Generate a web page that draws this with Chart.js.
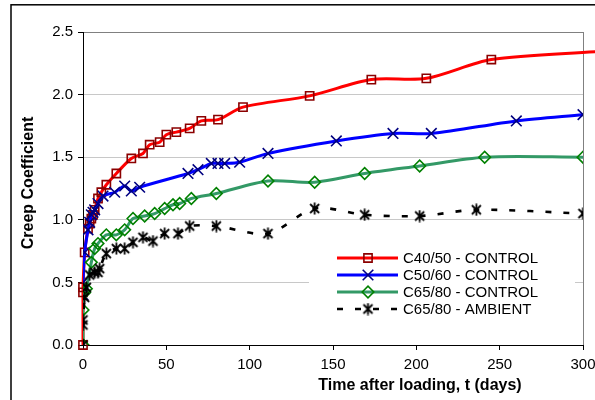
<!DOCTYPE html>
<html>
<head>
<meta charset="utf-8">
<script src="https://cdn.jsdelivr.net/npm/chart.js@4/dist/chart.umd.min.js"></script>
<style>
  html, body { margin: 0; padding: 0; background: #fff; overflow: hidden; }
  #wrap { position: relative; width: 595px; height: 400px; }
</style>
</head>
<body>
<div id="wrap"><canvas id="c" width="595" height="400"></canvas></div>
<script>
// Series names shown in the legend
const seriesNames = ['C40/50 - CONTROL', 'C50/60 - CONTROL', 'C65/80 - CONTROL', 'C65/80 - AMBIENT'];

// C40/50 control specimens (days after loading, creep coefficient)
const c4050Days  = [0, 0, 0, 1, 3, 4, 5, 6, 7, 9, 11, 14, 20, 29, 36, 40, 46, 50, 56, 64, 71, 81, 96, 136, 173, 206, 245, 310];
const c4050Creep = [0, 0.42, 0.46, 0.74, 0.93, 0.97, 1.01, 1.04, 1.08, 1.17, 1.22, 1.28, 1.37, 1.49, 1.53, 1.60, 1.62, 1.68, 1.70, 1.73, 1.79, 1.80, 1.90, 1.99, 2.12, 2.13, 2.28, 2.345];

// C50/60 control specimens
const c5060Days  = [0, 0, 1, 3, 4, 5, 6, 7, 9, 12, 19, 25, 29, 34, 63, 69, 77, 81, 85, 94, 111, 152, 186, 209, 260, 300];
const c5060Creep = [0.40, 0.50, 0.74, 0.92, 0.98, 1.04, 1.06, 1.08, 1.13, 1.19, 1.22, 1.27, 1.23, 1.26, 1.37, 1.40, 1.45, 1.45, 1.45, 1.46, 1.53, 1.63, 1.69, 1.69, 1.79, 1.84];

// C65/80 control specimens
const c6580cDays  = [0, 0, 1, 2, 5, 7, 9, 14, 20, 25, 30, 37, 43, 49, 54, 58, 65, 80, 111, 139, 169, 202, 241, 300];
const c6580cCreep = [0, 0.28, 0.42, 0.45, 0.66, 0.77, 0.81, 0.88, 0.88, 0.92, 1.01, 1.03, 1.05, 1.09, 1.12, 1.13, 1.17, 1.21, 1.31, 1.30, 1.37, 1.43, 1.50, 1.50];

// C65/80 ambient specimens
const c6580aDays  = [0, 0, 0, 1, 2, 4, 7, 9, 10, 14, 20, 25, 30, 36, 42, 49, 57, 64, 80, 111, 139, 169, 202, 236, 300];
const c6580aCreep = [0, 0.16, 0.20, 0.38, 0.46, 0.56, 0.58, 0.58, 0.61, 0.73, 0.77, 0.77, 0.82, 0.86, 0.83, 0.89, 0.89, 0.95, 0.95, 0.89, 1.09, 1.04, 1.03, 1.08, 1.05];

// Axis ticks
const yTicks = [0, 0.5, 1.0, 1.5, 2.0, 2.5];
const xTicks = [0, 50, 100, 150, 200, 250, 300];

const FONT = '"Liberation Sans", Arial, sans-serif';

function pts(days, vals) { return days.map((d, i) => ({ x: d, y: vals[i] })); }

// Asterisk marker: a diagonal cross with a vertical bar
function asteriskMarker() {
  const s = 13, cv = document.createElement('canvas');
  cv.width = s; cv.height = s;
  const g = cv.getContext('2d');
  g.strokeStyle = '#000'; g.lineWidth = 1.8; g.lineCap = 'butt';
  g.beginPath();
  g.moveTo(2, 2); g.lineTo(11, 11);
  g.moveTo(11, 2); g.lineTo(2, 11);
  g.moveTo(6.5, 0.5); g.lineTo(6.5, 12.5);
  g.stroke();
  return cv;
}
const star = asteriskMarker();

const lastRed = c4050Days.length - 1;

const datasets = [
  {
    label: seriesNames[0], data: pts(c4050Days, c4050Creep),
    borderColor: '#ff0000', borderWidth: 3, tension: 0.3,
    pointStyle: 'rect', pointRadius: ctx => ctx.dataIndex === lastRed ? 0 : 5.8,
    pointBorderColor: '#8b0000', pointBackgroundColor: 'rgba(0,0,0,0)', pointBorderWidth: 1.6,
    clip: { left: 5, top: 5, right: false, bottom: 5 }, order: 4
  },
  {
    label: seriesNames[1], data: pts(c5060Days, c5060Creep),
    borderColor: '#0000ff', borderWidth: 3, tension: 0.3,
    pointStyle: 'crossRot', pointRadius: 7.5,
    pointBorderColor: '#000080', pointBackgroundColor: 'rgba(0,0,0,0)', pointBorderWidth: 1.6, order: 3
  },
  {
    label: seriesNames[2], data: pts(c6580cDays, c6580cCreep),
    borderColor: '#339966', borderWidth: 3, tension: 0.3,
    pointStyle: 'rectRot', pointRadius: 5.8,
    pointBorderColor: '#008000', pointBackgroundColor: 'rgba(0,0,0,0)', pointBorderWidth: 1.6, order: 2
  },
  {
    label: seriesNames[3], data: pts(c6580aDays, c6580aCreep),
    borderColor: '#000000', borderWidth: 2.6, borderDash: [6, 12], tension: 0.3,
    pointStyle: star, pointRadius: 6,
    pointBorderColor: '#000', pointBackgroundColor: '#000', order: 1
  }
];

// Outer frame, axis titles and the in-plot legend
const decorations = {
  id: 'decorations',
  afterDraw(chart) {
    const ctx = chart.ctx;
    ctx.save();
    // frame
    ctx.strokeStyle = '#000'; ctx.lineWidth = 1.5;
    ctx.strokeRect(11, 4.8, 700, 500);

    // axis titles
    ctx.fillStyle = '#000';
    ctx.font = 'bold 16px ' + FONT;
    ctx.textAlign = 'center'; ctx.textBaseline = 'alphabetic';
    ctx.fillText('Time after loading, t (days)', 420, 390);
    ctx.save();
    ctx.translate(32.5, 183);
    ctx.rotate(-Math.PI / 2);
    ctx.fillText('Creep Coefficient', 0, 0);
    ctx.restore();

    // legend
    ctx.fillStyle = '#fff';
    ctx.fillRect(309, 244, 266, 80);
    const rowY = [258, 275, 292, 309];
    chart.data.datasets.forEach((ds, i) => {
      const y = rowY[i];
      ctx.save();
      ctx.strokeStyle = ds.borderColor; ctx.lineWidth = ds.borderWidth;
      ctx.setLineDash(ds.borderDash || []);
      ctx.beginPath(); ctx.moveTo(337, y); ctx.lineTo(398, y); ctx.stroke();
      ctx.setLineDash([]);
      ctx.strokeStyle = ds.pointBorderColor; ctx.fillStyle = ds.pointBackgroundColor;
      ctx.lineWidth = ds.pointBorderWidth || 1;
      Chart.helpers.drawPoint(ctx, {
        pointStyle: ds.pointStyle,
        radius: typeof ds.pointRadius === 'function' ? 5.8 : ds.pointRadius,
        rotation: 0, borderWidth: ds.pointBorderWidth || 1
      }, 368, y);
      ctx.restore();
      ctx.fillStyle = '#000';
      ctx.font = '15px ' + FONT;
      ctx.textAlign = 'left'; ctx.textBaseline = 'middle';
      ctx.fillText(ds.label, 403, y + 0.5);
    });
    ctx.restore();
  }
};

new Chart(document.getElementById('c'), {
  type: 'line',
  data: { datasets },
  options: {
    responsive: false,
    animation: false,
    devicePixelRatio: 1,
    layout: { padding: { top: 32, right: 0, left: 0, bottom: 0 } },
    plugins: { legend: { display: false }, tooltip: { enabled: false } },
    scales: {
      x: {
        type: 'linear', min: 0, max: 300,
        afterFit: s => { s.height = 55; s.paddingRight = 12; s.paddingLeft = 0; },
        afterBuildTicks: s => { s.ticks = xTicks.map(v => ({ value: v })); },
        ticks: { color: '#000', font: { family: FONT, size: 15 }, padding: 6, maxRotation: 0 },
        grid: {
          drawOnChartArea: true,
          color: ctx => (ctx.tick && ctx.tick.value === 300) ? '#808080' : 'rgba(0,0,0,0)',
          tickColor: '#000', tickLength: 5, lineWidth: 1
        },
        border: { color: '#000', width: 1 }
      },
      y: {
        type: 'linear', min: 0, max: 2.5,
        afterFit: s => { s.width = 83; },
        afterBuildTicks: s => { s.ticks = yTicks.map(v => ({ value: v })); },
        ticks: { color: '#000', font: { family: FONT, size: 15 }, padding: 5, callback: v => v.toFixed(1) },
        grid: {
          color: ctx => (ctx.tick && ctx.tick.value === 2.5) ? '#808080' : '#c8c8c8',
          tickColor: '#000', tickLength: 5, lineWidth: 1
        },
        border: { color: '#000', width: 1 }
      }
    }
  },
  plugins: [decorations]
});
</script>
</body>
</html>
